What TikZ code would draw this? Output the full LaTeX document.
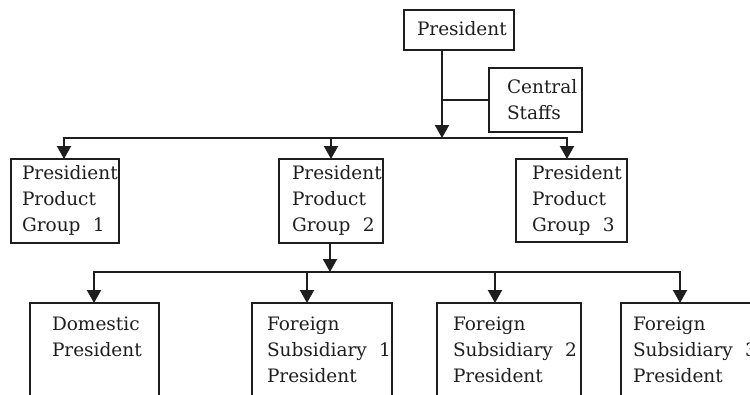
\documentclass[tikz,border=0pt]{standalone}
\usepackage{fontspec}
\setmainfont{DejaVu Serif}
\usetikzlibrary{arrows.meta}
\definecolor{ink}{RGB}{30,30,30}
\begin{document}
\begin{tikzpicture}[x=1pt,y=-1pt,
  every node/.style={font=\fontsize{18.5}{26}\selectfont, text=ink},
  unit/.style={draw=ink, line width=2.1pt, outer sep=0pt, inner ysep=0pt,
               anchor=north west, align=left},
  link/.style={draw=ink, line width=2.1pt, line cap=rect},
  feed/.style={draw=ink, line width=2.1pt,
               -{Triangle[width=14pt,length=13pt]}}]

\useasboundingbox (0,0) rectangle (750,394);
\clip (0,0) rectangle (750,394);

% top of the chart
\node[unit, text width=84pt, inner xsep=13pt, text height=25pt, text depth=15pt]
  (pres) at (404,10) {President};
\node[unit, text width=57pt, inner xsep=18pt, text height=25pt, text depth=39pt]
  (cs) at (489,68) {Central\\Staffs};

% product groups
\node[unit, text width=86pt, inner xsep=11pt, text height=20pt, text depth=64pt]
  (g1) at (11,159) {Presidient\\Product\\Group~~1};
\node[unit, text width=78pt, inner xsep=13pt, text height=20pt, text depth=64pt]
  (g2) at (279,159) {President\\Product\\Group~~2};
\node[unit, text width=79pt, inner xsep=16pt, text height=20pt, text depth=63pt]
  (g3) at (516,159) {President\\Product\\Group~~3};

% domestic and foreign units under group 2
\node[unit, text width=85pt, inner xsep=22pt, text height=27pt, text depth=90pt]
  (dom) at (30,303) {Domestic\\President};
\node[unit, text width=110pt, inner xsep=15pt, text height=27pt, text depth=90pt]
  (fs1) at (252,303) {Foreign\\Subsidiary~~1\\President};
\node[unit, text width=112pt, inner xsep=16pt, text height=27pt, text depth=90pt]
  (fs2) at (437,303) {Foreign\\Subsidiary~~2\\President};
\node[unit, text width=120pt, inner xsep=12pt, text height=27pt, text depth=90pt]
  (fs3) at (621,303) {Foreign\\Subsidiary~~3\\President};

% junction points of the connectors
\coordinate (hub) at (442,138);
\coordinate (a1) at (64,138);
\coordinate (a2) at (331,138);
\coordinate (a3) at (567,138);
\coordinate (hub2) at (330,272);
\coordinate (b1) at (94,272);
\coordinate (b2) at (307,272);
\coordinate (b3) at (495,272);
\coordinate (b4) at (680,272);

% president to the group level
\draw[feed] (pres.south -| hub) -- (hub);
\draw[link] (cs.west) -- (cs.west -| hub);
\draw[link] (a1) -- (a3);
\draw[feed] (a1) -- (a1 |- g1.north);
\draw[feed] (a2) -- (a2 |- g2.north);
\draw[feed] (a3) -- (a3 |- g3.north);

% group 2 to its units
\draw[feed] (g2.south -| hub2) -- (hub2);
\draw[link] (b1) -- (b4);
\draw[feed] (b1) -- (b1 |- dom.north);
\draw[feed] (b2) -- (b2 |- fs1.north);
\draw[feed] (b3) -- (b3 |- fs2.north);
\draw[feed] (b4) -- (b4 |- fs3.north);
\end{tikzpicture}
\end{document}
